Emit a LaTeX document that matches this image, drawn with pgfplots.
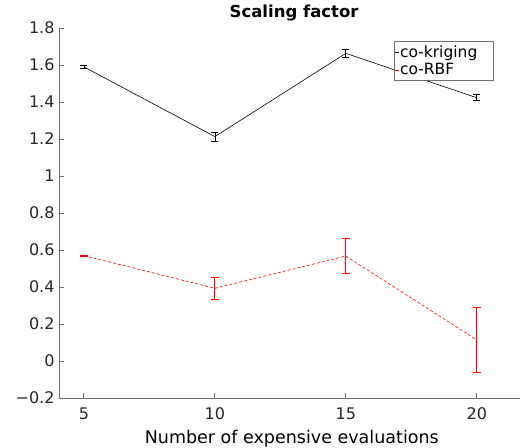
\documentclass[border=0pt]{standalone}
\usepackage{fontspec}
\setmainfont{DejaVu Sans}
\usepackage{pgfplots}
\pgfplotsset{compat=1.18}
\definecolor{axgray}{RGB}{110,110,110}
\definecolor{myred}{RGB}{255,0,0}
\begin{document}
\begin{tikzpicture}
\useasboundingbox (-59pt,-49pt) rectangle (462pt,398pt);
\begin{axis}[
  at={(0pt,0pt)}, anchor=south west,
  scale only axis, width=461pt, height=370pt,
  xmin=4.05, xmax=21.65, ymin=-0.2, ymax=1.8,
  xtick={5,10,15,20},
  ytick={-0.2,0,0.2,0.4,0.6,0.8,1,1.2,1.4,1.6,1.8},
  yticklabels={−0.2,0,0.2,0.4,0.6,0.8,1,1.2,1.4,1.6,1.8},
  axis lines=left,
  axis line style={-, axgray, line width=0.9pt},
  tick style={axgray, line width=0.9pt},
  tick align=inside,
  major tick length=5pt,
  /pgf/number format/assume math mode=true,
  ticklabel style={font=\fontsize{16}{18}\selectfont, text=black!85},
  xticklabel style={yshift=-6pt},
  yticklabel style={xshift=-1pt},
  xlabel={Number of expensive evaluations},
  xlabel style={font=\fontsize{17.5}{20}\selectfont, at={(rel axis cs:0.505,0)}, anchor=base, yshift=-45pt},
  title={\textbf{Scaling factor}},
  title style={font=\fontsize{16.5}{19}\selectfont, at={(rel axis cs:0.51,1)}, anchor=base, yshift=4pt},
  legend style={at={(rel axis cs:0.7267,0.965)}, anchor=north west, draw=axgray, line width=0.8pt, font=\fontsize{15.5}{17}\selectfont, inner xsep=0pt, inner ysep=1.5pt, row sep=0pt, nodes={inner xsep=1pt, inner ysep=2.5pt}},
  legend cell align=left,
  legend image code/.code={\draw[#1, solid] (0pt,0pt) -- (4pt,0pt);},
  clip=false,
]
\addplot[black, line width=0.6pt, error bars/.cd, y dir=both, y explicit, error bar style={black, line width=0.7pt}, error mark options={rotate=90, mark size=3.5pt, black, line width=0.7pt}]
  coordinates {(5,1.59) +- (0,0.008) (10,1.213) +- (0,0.025) (15,1.663) +- (0,0.02) (20,1.423) +- (0,0.016)};
\addlegendentry{co-kriging\rule{15pt}{0pt}}
\addplot[myred, dash pattern=on 3pt off 2pt, line width=0.6pt, error bars/.cd, y dir=both, y explicit, error bar style={myred, solid, line width=0.9pt}, error mark options={rotate=90, mark size=4pt, myred, solid, line width=0.9pt}]
  coordinates {(5,0.57) +- (0,0.003) (10,0.393) +- (0,0.06) (15,0.567) +- (0,0.094) (20,0.114) +- (0,0.178)};
\addlegendentry{co-RBF}
\end{axis}
\end{tikzpicture}
\end{document}
